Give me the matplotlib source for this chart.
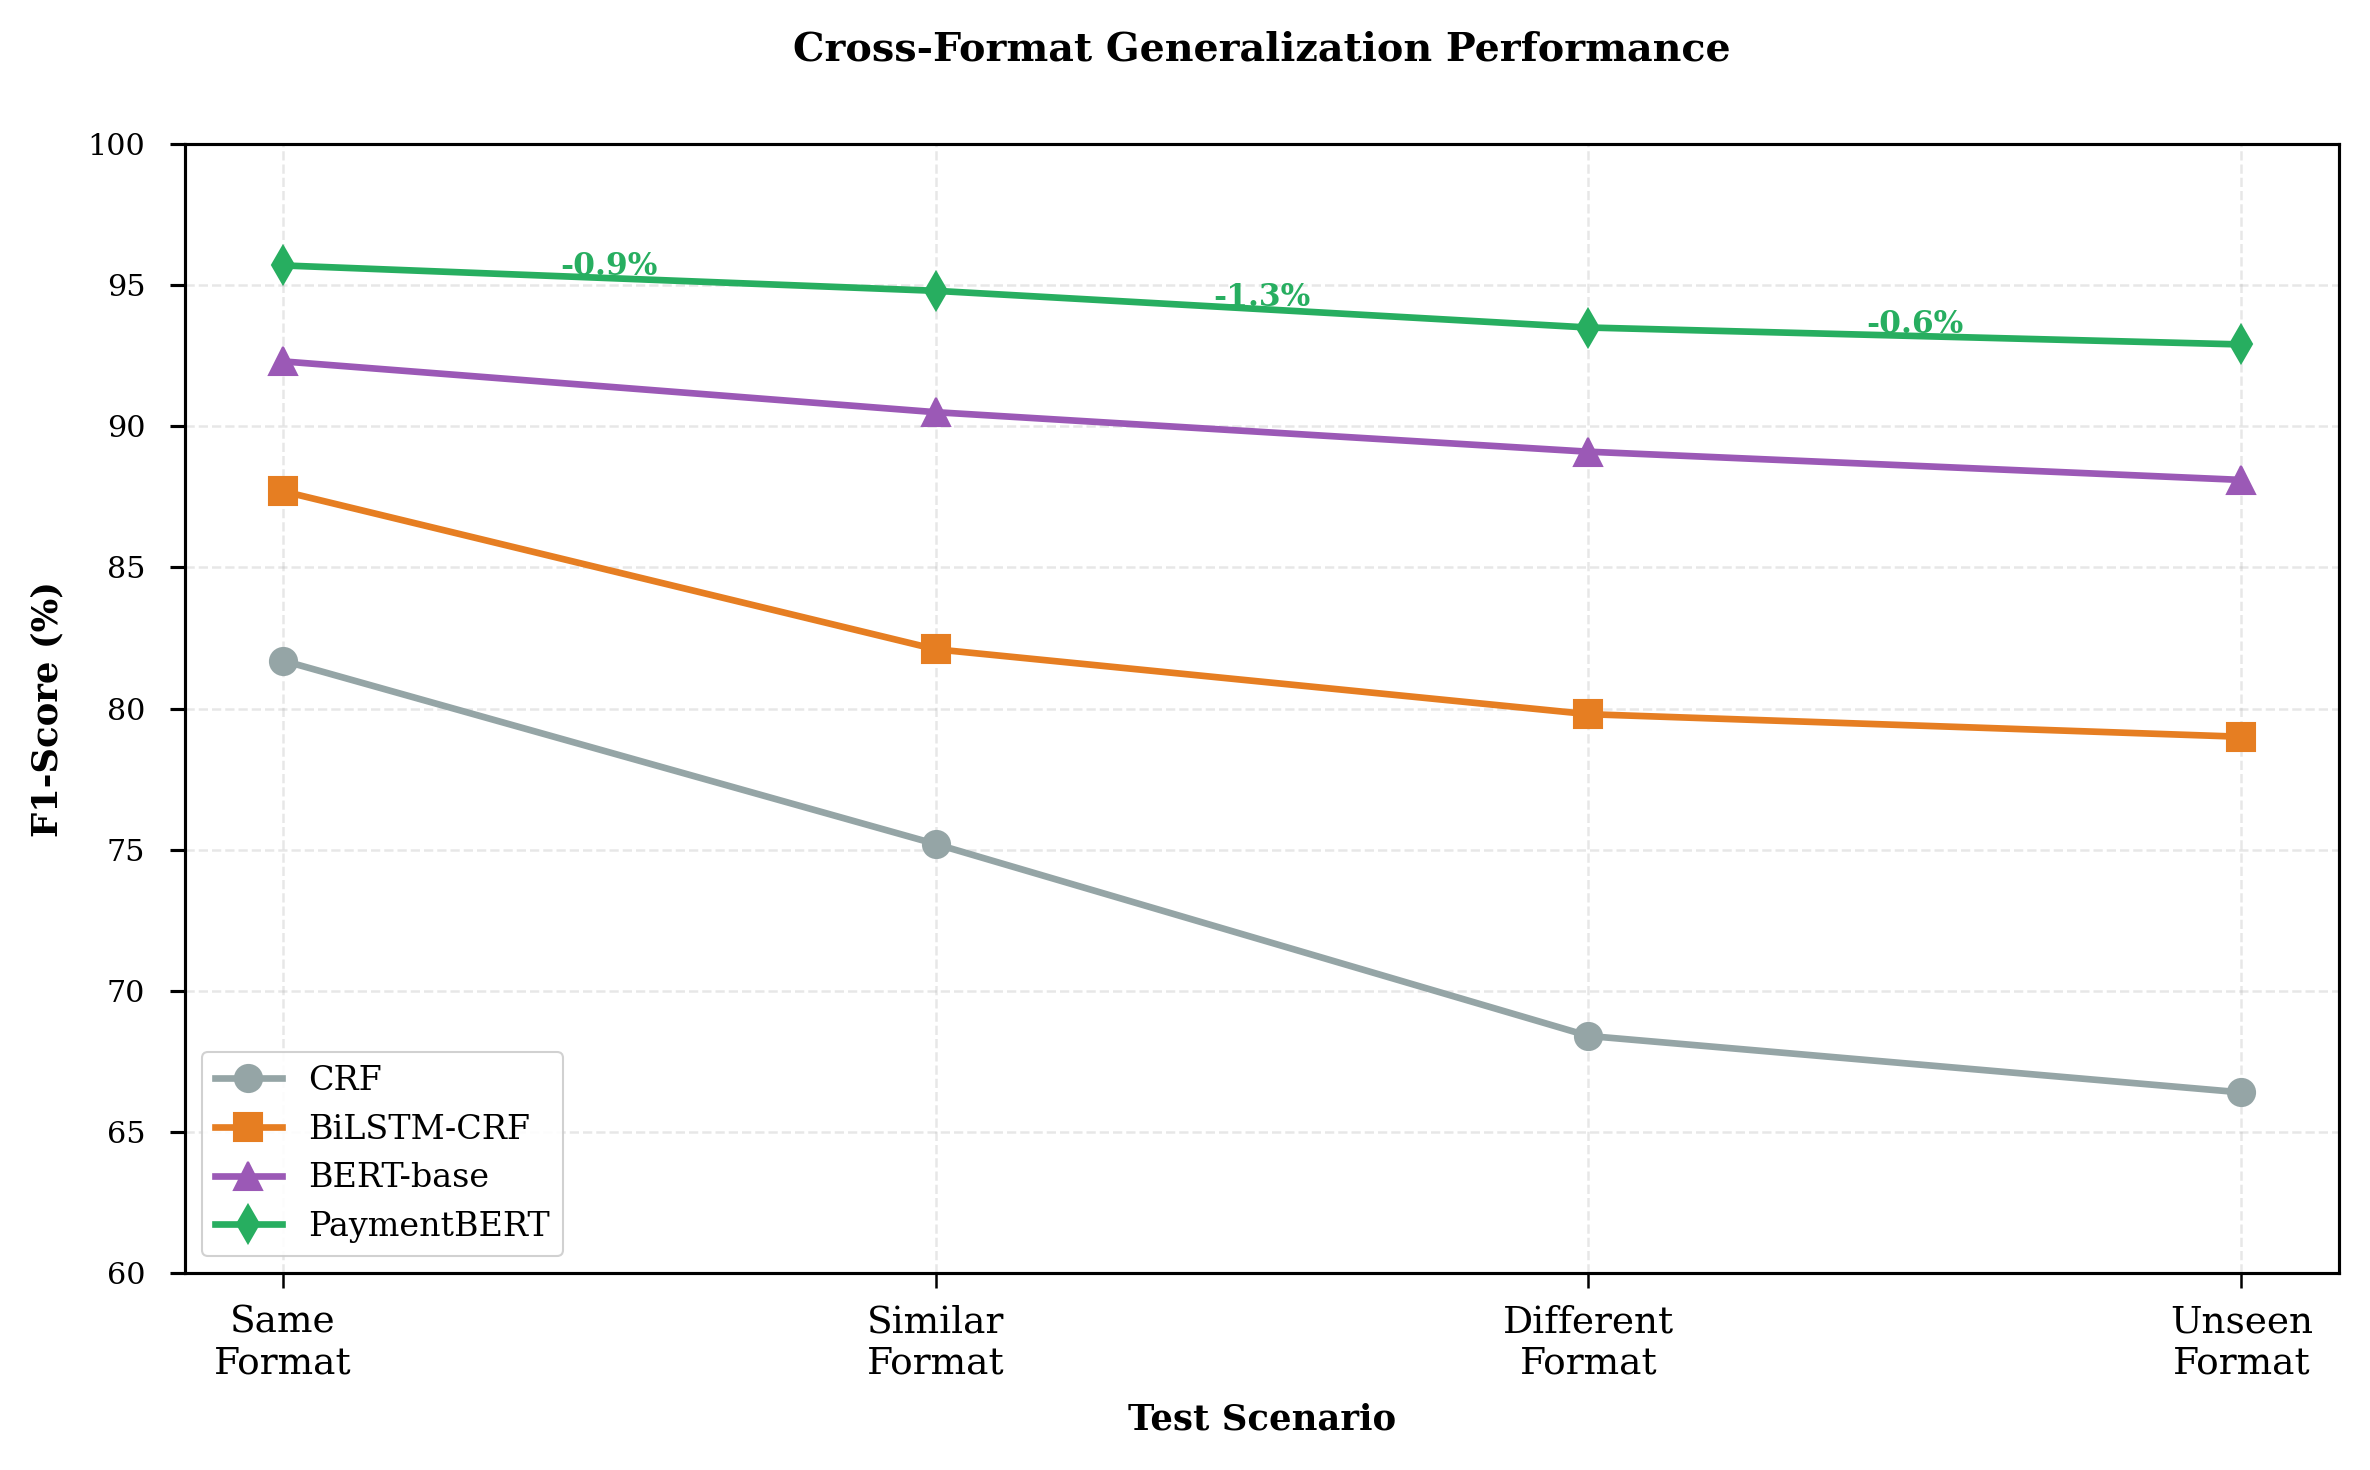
import matplotlib.pyplot as plt
import numpy as np

# Данные
scenarios = ["Same\nFormat", "Similar\nFormat", "Different\nFormat", "Unseen\nFormat"]
models = ["CRF", "BiLSTM-CRF", "BERT-base", "PaymentBERT"]
crf = [81.7, 75.2, 68.4, 66.4]
bilstm_crf = [87.7, 82.1, 79.8, 79.0]
bert_base = [92.3, 90.5, 89.1, 88.1]
payment_bert = [95.7, 94.8, 93.5, 92.9]

colors = ["#95a5a6", "#e67e22", "#9b59b6", "#27ae60"]
markers = ["o", "s", "^", "d"]

plt.rcParams['font.family'] = 'DejaVu Serif'

fig, ax = plt.subplots(figsize=(15.8, 9.8), dpi=150)
x = np.arange(len(scenarios))

for name, vals, c, m in zip(models, [crf, bilstm_crf, bert_base, payment_bert], colors, markers):
    ax.plot(x, vals, marker=m, color=c, label=name, linewidth=3.2, markersize=13)

# Падение PaymentBERT между соседними сценариями
for i in range(len(payment_bert) - 1):
    drop = payment_bert[i + 1] - payment_bert[i]
    ax.text(x[i] + 0.5, (payment_bert[i] + payment_bert[i + 1]) / 2 + 0.4, f"{drop:.1f}%",
            ha='center', va='center', fontsize=15, fontweight='bold', color=colors[3])

ax.set_xticks(x)
ax.set_xticklabels(scenarios, fontsize=18)
ax.set_ylim(60, 100)
ax.tick_params(axis='y', labelsize=14.5, width=1.5, length=7, pad=12)
ax.tick_params(axis='x', width=1.2, length=7, pad=8)
for s in ax.spines.values():
    s.set_linewidth(1.5)

ax.set_xlabel("Test Scenario", fontsize=17, fontweight='bold', labelpad=10)
ax.set_ylabel("F1-Score (%)", fontsize=17, fontweight='bold', labelpad=11)
ax.set_title("Cross-Format Generalization Performance", fontsize=19, fontweight='bold', pad=40)
ax.grid(True, linestyle='--', alpha=0.3, linewidth=1.2)
ax.legend(loc='lower left', fontsize=16, framealpha=0.9)

plt.subplots_adjust(left=0.078, right=0.987, top=0.902, bottom=0.134)
plt.savefig("out.png", dpi=150)
